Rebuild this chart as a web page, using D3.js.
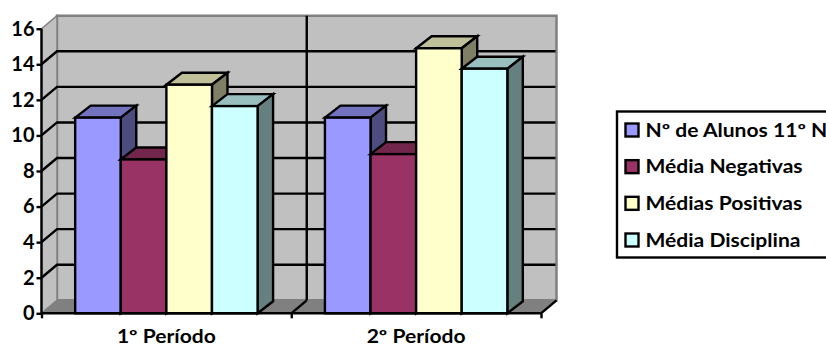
<!DOCTYPE html>
<html>
<head>
<meta charset="utf-8">
<script src="https://cdn.jsdelivr.net/npm/d3@7/dist/d3.min.js"></script>
<style>
html,body{margin:0;padding:0;background:#fff;overflow:hidden}
text{font-family:Lato,"Open Sans",sans-serif;font-weight:700;fill:#000}
</style>
</head>
<body>
<svg id="chart" width="826" height="347"></svg>
<script>
const periods = ["1º Período", "2º Período"];
const seriesNames = ["Nº de Alunos 11º N", "Média Negativas", "Médias Positivas", "Média Disciplina"];
const alunos = [11, 11];
const negativas = [8.65, 8.95];
const positivas = [12.85, 14.9];
const disciplina = [11.65, 13.75];
const yTicks = [0, 2, 4, 6, 8, 10, 12, 14, 16];

const frontColors = ["#9999ff", "#993366", "#ffffcc", "#ccffff"];
const topColors = ["#7272bf", "#72264c", "#bfbf99", "#99bfbf"];
const sideColors = ["#4c4c7f", "#4c1933", "#7f7f66", "#667f7f"];

const allSeries = [alunos, negativas, positivas, disciplina];
const svg = d3.select("#chart");

// Oblique offset of the 3D box and of each column
const wallDx = 15.5, wallDy = 13;
const barDx = 15.5, barDy = 12;
const ink = 2.4;

const y = d3.scaleLinear().domain([0, 16]).range([313.3, 28.7]);
const x0 = d3.scaleBand().domain(periods).range([41.5, 541]);
const x1 = d3.scaleBand().domain(seriesNames).range([0, 182.4]);
const groupOffset = (x0.bandwidth() - x1.range()[1]) / 2;

const poly = pts => pts.map(p => p.join(",")).join(" ");
const plotLeft = 41.5, plotRight = 541, plotBase = y(0), plotTop = y(16);

// Widens a label's glyphs a little beyond the font's natural set width
function widen(sel, factor) {
  sel.each(function () {
    this.setAttribute("textLength", this.getComputedTextLength() * factor);
    this.setAttribute("lengthAdjust", "spacingAndGlyphs");
  });
}

// Back wall, side wall and floor
svg.append("polygon")
  .attr("points", poly([[plotLeft + wallDx, plotTop - wallDy], [plotRight + wallDx, plotTop - wallDy], [plotRight + wallDx, plotBase - wallDy], [plotLeft + wallDx, plotBase - wallDy]]))
  .attr("fill", "#c0c0c0").attr("stroke", "#808080").attr("stroke-width", 2.5);
svg.append("polygon")
  .attr("points", poly([[plotLeft, plotTop], [plotLeft + wallDx, plotTop - wallDy], [plotLeft + wallDx, plotBase - wallDy], [plotLeft, plotBase]]))
  .attr("fill", "#c0c0c0").attr("stroke", "#808080").attr("stroke-width", 1.5);
svg.append("polygon")
  .attr("points", poly([[plotLeft, plotBase], [plotLeft + wallDx, plotBase - wallDy], [plotRight + wallDx, plotBase - wallDy], [plotRight, plotBase]]))
  .attr("fill", "#808080").attr("stroke", "#808080").attr("stroke-width", 1);

// Gridlines running along the side wall and the back wall
const grid = svg.append("g").attr("stroke", "#000").attr("stroke-width", ink).attr("fill", "none");
yTicks.slice(1, -1).forEach(t => {
  grid.append("path").attr("d", d3.line()([[plotLeft, y(t)], [plotLeft + wallDx, y(t) - wallDy], [plotRight + wallDx - 1, y(t) - wallDy]]));
});
grid.append("line")
  .attr("x1", x0.step() + plotLeft + wallDx).attr("x2", x0.step() + plotLeft + wallDx)
  .attr("y1", plotTop - wallDy).attr("y2", plotBase - wallDy);
grid.append("line")
  .attr("x1", x0.step() + plotLeft).attr("x2", x0.step() + plotLeft + wallDx)
  .attr("y1", plotBase).attr("y2", plotBase - wallDy);
grid.append("line")
  .attr("x1", plotRight).attr("x2", plotRight + wallDx)
  .attr("y1", plotBase).attr("y2", plotBase - wallDy);

// Columns, one cluster per period
periods.forEach((p, i) => {
  seriesNames.forEach((s, j) => {
    const v = allSeries[j][i];
    const xa = x0(p) + groupOffset + x1(s);
    const xb = xa + x1.bandwidth();
    const yt = y(v);
    const g = svg.append("g").attr("stroke", "#000").attr("stroke-width", ink).attr("stroke-linejoin", "miter");
    g.append("polygon").attr("fill", topColors[j])
      .attr("points", poly([[xa, yt], [xa + barDx, yt - barDy], [xb + barDx, yt - barDy], [xb, yt]]));
    g.append("polygon").attr("fill", sideColors[j])
      .attr("points", poly([[xb, yt], [xb + barDx, yt - barDy], [xb + barDx, plotBase - barDy], [xb, plotBase]]));
    g.append("rect").attr("fill", frontColors[j])
      .attr("x", xa).attr("y", yt).attr("width", xb - xa).attr("height", plotBase - yt);
  });
});

// Value axis
const yAxis = svg.append("g").attr("transform", `translate(${plotLeft},0)`)
  .call(d3.axisLeft(y).tickValues(yTicks).tickSize(5).tickPadding(2).tickFormat(d3.format("d")));
yAxis.selectAll("path,line").attr("stroke", "#000").attr("stroke-width", ink);
yAxis.selectAll("text").style("font-size", "20px");
yAxis.select(".domain").attr("d", `M0,${plotTop}V${plotBase}`);

// Category axis
const xAxis = svg.append("g").attr("transform", `translate(0,${plotBase})`)
  .call(d3.axisBottom(d3.scalePoint().domain(["a", "b", "c"]).range([plotLeft, plotRight])).tickSize(5).tickFormat(""));
xAxis.selectAll("path,line").attr("stroke", "#000").attr("stroke-width", ink);
xAxis.select(".domain").attr("d", `M${plotLeft},0H${plotRight}`);

svg.append("g").selectAll("text").data(periods).join("text")
  .attr("x", d => x0(d) + x0.bandwidth() / 2)
  .attr("y", 343)
  .attr("text-anchor", "middle")
  .style("font-size", "18px")
  .text(d => d)
  .call(widen, 1.17);

// Legend, running past the right edge of the page
const legend = svg.append("g");
legend.append("rect").attr("x", 617).attr("y", 111.5).attr("width", 240).attr("height", 146)
  .attr("fill", "#fff").attr("stroke", "#000").attr("stroke-width", ink);
const legendY = d3.scalePoint().domain(seriesNames).range([130, 240]);
seriesNames.forEach((s, j) => {
  legend.append("rect").attr("x", 625.5).attr("y", legendY(s) - 6.5).attr("width", 13).attr("height", 13)
    .attr("fill", frontColors[j]).attr("stroke", "#000").attr("stroke-width", ink);
  legend.append("text").attr("x", 645.5).attr("y", legendY(s) + 6.5).style("font-size", "18px").text(s)
    .call(widen, 1.17);
});
</script>
</body>
</html>
